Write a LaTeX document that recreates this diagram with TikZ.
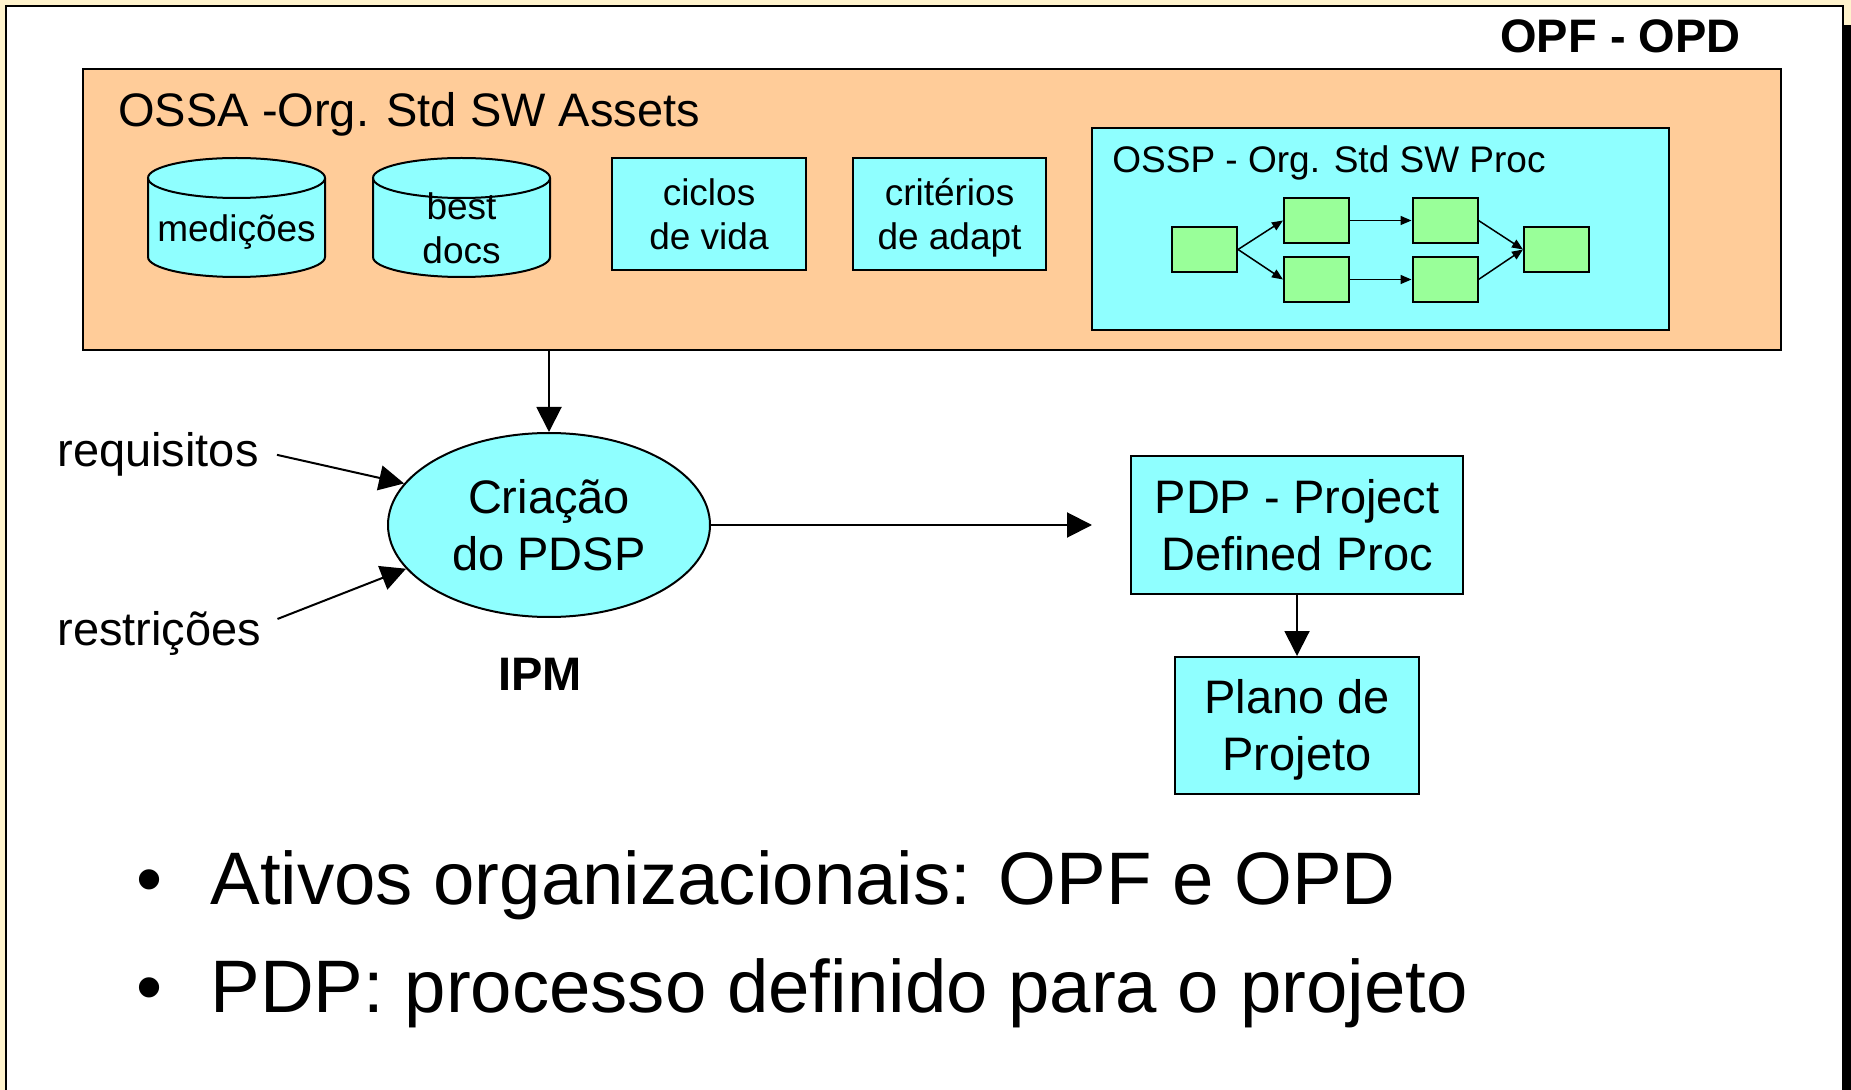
\documentclass[tikz,border=0pt]{standalone}
\usepackage{fontspec}
\setmainfont{Liberation Sans}
\usetikzlibrary{shapes.geometric, arrows.meta}

\definecolor{slidebg}{HTML}{FFF3CC}
\definecolor{ossaorange}{HTML}{FFCC99}
\definecolor{cyanfill}{HTML}{8FFFFF}
\definecolor{stepgreen}{HTML}{99FF99}

\newcommand{\midfont}{\fontsize{23.5}{28.5}\selectfont}
\newcommand{\smallfont}{\fontsize{18.5}{22}\selectfont}
\newcommand{\bigfont}{\fontsize{37.2}{44}\selectfont}
\newcommand{\boldfont}{\fontsize{23.5}{28.5}\selectfont\bfseries}

% cylinder for the asset stores, #1 = centre x
\newcommand{\dbcylinder}[1]{%
  \fill[cyanfill] ({#1-88.5},178) -- ({#1-88.5},257)
    arc[start angle=180, end angle=360, x radius=44.25pt, y radius=10pt]
    -- ({#1+88.5},178)
    arc[start angle=0, end angle=180, x radius=44.25pt, y radius=10pt] -- cycle;
  \draw[line width=1pt] ({#1-88.5},178) -- ({#1-88.5},257)
    arc[start angle=180, end angle=360, x radius=44.25pt, y radius=10pt]
    -- ({#1+88.5},178);
  \draw[line width=1pt] (#1,178) ellipse[x radius=44.25pt, y radius=10pt];
}

\begin{document}
\begin{tikzpicture}[x=0.5pt, y=-0.5pt,
  plaintext/.style={inner sep=0pt},
  boxcyan/.style={draw, line width=1pt, fill=cyanfill, inner sep=0pt, align=center},
  boxgreen/.style={draw, line width=1pt, fill=stepgreen, minimum width=32.5pt, minimum height=22.5pt, inner sep=0pt},
  bigarrow/.style={line width=1pt, -{Triangle[length=12.5pt, width=12.5pt]}},
  smallarrow/.style={line width=0.75pt, -{Triangle[length=5.5pt, width=4.5pt]}}
]
\useasboundingbox (0,0) rectangle (1851,1090);
\fill[slidebg] (0,0) rectangle (1851,1090);
\fill[black] (25,25) rectangle (1870,1110);
\draw[fill=white, line width=1pt] (6,6) rectangle (1843,1110);

\node[plaintext, font=\boldfont, anchor=base east] (opfopd) at (1741,53) {OPF - OPD};

% assets
\node[draw, line width=1pt, fill=ossaorange, minimum width=849pt, minimum height=140.5pt, inner sep=0pt] (ossa) at (932,209.5) {};
\node[plaintext, font=\midfont, anchor=base west] (ossatitle) at (118,127) {OSSA -Org. Std SW Assets};

\dbcylinder{236.5}
\dbcylinder{461.5}
\node[plaintext, font=\smallfont, anchor=base] (medicoes) at (236.5,242) {medições};
\node[plaintext, font=\smallfont, align=center] (bestdocs) at (461.5,228) {best\\docs};

\node[boxcyan, font=\smallfont, minimum width=97pt, minimum height=56pt] (ciclos) at (709,214) {ciclos\\de vida};
\node[boxcyan, font=\smallfont, minimum width=96.5pt, minimum height=56pt] (criterios) at (949.5,214) {crit\smash{é}rios\\de ada\smash{p}t};

\node[boxcyan, minimum width=288.5pt, minimum height=101pt] (ossp) at (1380.5,229) {};
\node[plaintext, font=\smallfont, anchor=base west] (ossptitle) at (1112,173) {OSSP - Org. Std SW Proc};

\node[boxgreen] (s1) at (1204.5,249.5) {};
\node[boxgreen] (s2) at (1316.5,220.5) {};
\node[boxgreen] (s3) at (1445,220.5) {};
\node[boxgreen] (s4) at (1316.5,279.5) {};
\node[boxgreen] (s5) at (1445,279.5) {};
\node[boxgreen] (s6) at (1556.5,249.5) {};

\draw[smallarrow] (s1.east) -- (s2.west);
\draw[smallarrow] (s1.east) -- (s4.west);
\draw[smallarrow] (s2) -- (s3);
\draw[smallarrow] (s4) -- (s5);
\draw[smallarrow] (s3.east) -- (s6.west);
\draw[smallarrow] (s5.east) -- (s6.west);

% project process
\node[ellipse, draw, line width=1pt, fill=cyanfill, minimum width=161pt, minimum height=92pt, inner sep=0pt, align=center, font=\midfont] (criacao) at (549,525) {Criação\\do PDSP};
\draw[bigarrow] (ossa.south -| criacao.north) -- (criacao.north);

\node[plaintext, font=\midfont, anchor=base west] (req) at (57,467) {requisitos};
\node[plaintext, font=\midfont, anchor=base west] (restr) at (57,645) {restrições};
\draw[bigarrow] ([xshift=9pt]req.east) -- (criacao.164);
\draw[bigarrow] ([xshift=8pt, yshift=7pt]restr.east) -- (criacao.197);

\node[plaintext, font=\boldfont, anchor=base] (ipm) at (540,690) {IPM};

\coordinate (pdpin) at (1092,525);
\draw[bigarrow] (criacao.east) -- (pdpin);
\node[boxcyan, font=\midfont, minimum width=166pt, minimum height=69pt] (pdp) at (1297,525) {PDP - Project\\Defined Proc};
\node[boxcyan, font=\midfont, minimum width=122pt, minimum height=68.5pt] (plano) at (1297,725.5) {Plano de\\Pro\smash{j}eto};
\draw[bigarrow] (pdp) -- (plano);

% bullets
\node[plaintext, font=\bigfont, anchor=base] (dot1) at (150,904) {\textbullet};
\node[plaintext, font=\bigfont, anchor=base west] (item1) at (210,904) {Ativos organizacionais: OPF e OPD};
\node[plaintext, font=\bigfont, anchor=base] (dot2) at (150,1012) {\textbullet};
\node[plaintext, font=\bigfont, anchor=base west] (item2) at (210,1012) {PDP: processo definido para o projeto};
\end{tikzpicture}
\end{document}
